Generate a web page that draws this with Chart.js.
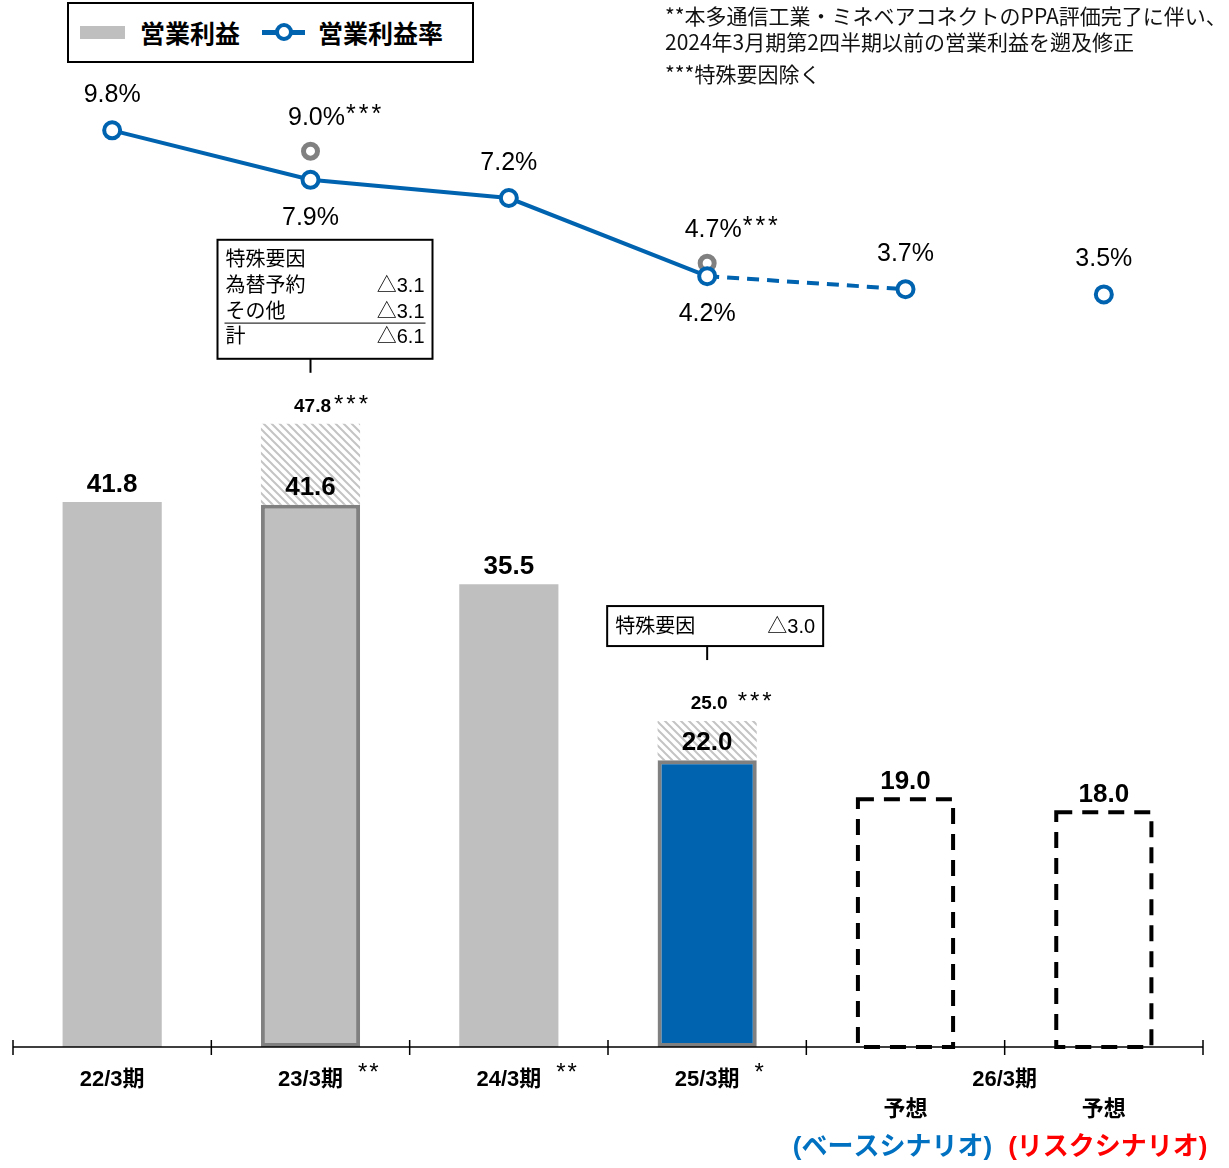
<!DOCTYPE html>
<html>
<head>
<meta charset="utf-8">
<script src="https://cdn.jsdelivr.net/npm/chart.js@4"></script>
<style>
  body { margin: 0; background: #fff; }
  #wrap { position: relative; width: 1229px; height: 1168px; overflow: hidden;
          font-family: "Liberation Sans", "Noto Sans CJK JP", sans-serif; }
  canvas { position: absolute; left: 0; top: 0; }
  .legend { position: absolute; left: 67px; top: 2px; width: 403px; height: 57px; border: 2px solid #000; background: #fff; }
  .legend .sw { position: absolute; left: 11px; top: 22px; width: 45px; height: 13px; background: #bfbfbf; }
  .legend .ln { position: absolute; left: 193px; top: 26px; width: 43px; height: 5px; background: #0063b0; }
  .legend .dot { position: absolute; left: 206px; top: 19px; width: 18px; height: 18px; box-sizing: border-box;
                 border: 4px solid #0063b0; border-radius: 50%; background: #fff; }
  .legend .tx { position: absolute; top: 13px; line-height: 30px; font-size: 25px; font-weight: bold; font-family: "Noto Sans CJK JP", sans-serif; }
  .note { position: absolute; left: 665px; font-size: 21px; line-height: 26px; white-space: nowrap;
          font-family: "Noto Sans CJK JP", sans-serif; color: #111; }
</style>
</head>
<body>
<div id="wrap">
  <canvas id="chart" width="1229" height="1168"></canvas>
  <div class="legend">
    <div class="sw"></div><div class="tx" style="left:71px">営業利益</div>
    <div class="ln"></div><div class="dot"></div><div class="tx" style="left:249px">営業利益率</div>
  </div>
  <div class="note" style="top:2px">**本多通信工業・ミネベアコネクトのPPA評価完了に伴い、</div>
  <div class="note" style="top:28px">2024年3月期第2四半期以前の営業利益を遡及修正</div>
  <div class="note" style="top:60px">***特殊要因除く</div>
</div>
<script>
const categories = ["22/3期", "23/3期", "24/3期", "25/3期", "予想", "予想"];
const categoryMarks = ["", "**", "**", "*", "", ""];
const forecastGroup = "26/3期";
const scenarios = ["", "", "", "", "(ベースシナリオ)", "(リスクシナリオ)"];
const isForecast = [false, false, false, false, true, true];

const operatingProfit = [41.8, 41.6, 35.5, 22.0, 19.0, 18.0];
const profitExSpecial = [null, 47.8, null, 25.0, null, null];
const operatingMargin = [9.8, 7.9, 7.2, 4.2, 3.7, 3.5];
const marginExSpecial = [null, 9.0, null, 4.7, null, null];
const marginLabelSide = ["up", "down", "up", "down", "up", "up"];

const specialFactors23 = [["特殊要因", ""], ["為替予約", "△3.1"], ["その他", "△3.1"], ["計", "△6.1"]];
const specialFactors25 = [["特殊要因", "△3.0"]];

const BLUE = "#0063b0";
const FONT = '"Liberation Sans", "Noto Sans CJK JP", sans-serif';

function hatchPattern() {
  const c = document.createElement("canvas");
  c.width = 8; c.height = 8;
  const g = c.getContext("2d");
  g.fillStyle = "#fff";
  g.fillRect(0, 0, 8, 8);
  g.strokeStyle = "#c4c4c4";
  g.lineWidth = 2;
  g.beginPath();
  g.moveTo(-4, 4); g.lineTo(4, 12);
  g.moveTo(0, 0); g.lineTo(8, 8);
  g.moveTo(4, -4); g.lineTo(12, 4);
  g.stroke();
  return document.getElementById("chart").getContext("2d").createPattern(c, "repeat");
}

// callouts hang above the hatched (ex-special) bars
const callouts = {
  1: { rows: specialFactors23, dx: -93, w: 215, h: 119, gap: 65, rule: 2 },
  3: { rows: specialFactors25, dx: -100, w: 216, h: 40, gap: 75, rule: -1 }
};

const annotate = {
  id: "annotate",
  afterDatasetsDraw(chart) {
    const ctx = chart.ctx;
    const bars = chart.getDatasetMeta(0).data;
    const tops = chart.getDatasetMeta(1).data;
    const pts = chart.getDatasetMeta(2).data;
    const grey = chart.getDatasetMeta(3).data;
    ctx.save();

    // dashed outlines for forecasts
    bars.forEach((b, i) => {
      if (!isForecast[i]) return;
      ctx.setLineDash([16, 10]);
      ctx.lineWidth = 4;
      ctx.strokeStyle = "#000";
      ctx.strokeRect(b.x - b.width / 2 + 2, b.y, b.width - 4, b.base - b.y);
    });
    ctx.setLineDash([]);

    // bar values
    ctx.fillStyle = "#000";
    ctx.textAlign = "center";
    ctx.textBaseline = "alphabetic";
    ctx.font = "bold 26px " + FONT;
    bars.forEach((b, i) => ctx.fillText(operatingProfit[i].toFixed(1), b.x, b.y - 10));

    // ex-special values + callouts
    profitExSpecial.forEach((v, i) => {
      if (v == null) return;
      const t = tops[i];
      ctx.font = "bold 19px " + FONT;
      ctx.textAlign = "center";
      const s = v.toFixed(1);
      const w = ctx.measureText(s).width;
      ctx.fillText(s, t.x + 2, t.y - 12);
      ctx.font = "24px " + FONT;
      ctx.textAlign = "left";
      ctx.letterSpacing = "3px";
      ctx.fillText("***", t.x + 2 + w / 2 + (i === 3 ? 10 : 3), t.y - 12);
      ctx.letterSpacing = "0px";

      const c = callouts[i];
      const bottom = t.y - c.gap;
      const top = bottom - c.h;
      const left = t.x + c.dx;
      ctx.strokeStyle = "#000";
      ctx.lineWidth = 2;
      ctx.strokeRect(left, top, c.w, c.h);
      ctx.beginPath();
      ctx.moveTo(t.x, bottom);
      ctx.lineTo(t.x, bottom + 14);
      ctx.stroke();
      ctx.font = "20px " + FONT;
      ctx.textBaseline = "middle";
      c.rows.forEach((r, k) => {
        const y = top + 21 + k * 25.7;
        ctx.textAlign = "left";
        ctx.fillText(r[0], left + 8, y);
        ctx.textAlign = "right";
        ctx.fillText(r[1], left + c.w - 8, y);
        if (k === c.rule) {
          ctx.lineWidth = 1.2;
          ctx.strokeStyle = "#333";
          ctx.beginPath();
          ctx.moveTo(left + 7, y + 11);
          ctx.lineTo(left + c.w - 7, y + 11);
          ctx.stroke();
        }
      });
      ctx.textBaseline = "alphabetic";
    });

    // margin labels
    ctx.font = "25px " + FONT;
    ctx.textAlign = "center";
    ctx.textBaseline = "middle";
    pts.forEach((p, i) => {
      const y = marginLabelSide[i] === "up" ? p.y - 35 : p.y + 38;
      ctx.fillText(operatingMargin[i].toFixed(1) + "%", p.x, y);
    });
    marginExSpecial.forEach((v, i) => {
      if (v == null) return;
      const p = grey[i];
      ctx.font = "25px " + FONT;
      ctx.textAlign = "center";
      const s = v.toFixed(1) + "%";
      const w = ctx.measureText(s).width;
      ctx.fillText(s, p.x + 6, p.y - 33);
      ctx.textAlign = "left";
      ctx.letterSpacing = "3px";
      ctx.fillText("***", p.x + 6 + w / 2 + 1, p.y - 36);
      ctx.letterSpacing = "0px";
    });
    ctx.restore();
  },
  afterDraw(chart) {
    const ctx = chart.ctx;
    const xs = chart.scales.x;
    const area = chart.chartArea;
    const yb = area.bottom;
    ctx.save();
    ctx.strokeStyle = "#000";
    ctx.lineWidth = 1.5;
    ctx.beginPath();
    ctx.moveTo(area.left, yb);
    ctx.lineTo(area.right, yb);
    for (let i = 0; i <= categories.length; i++) {
      const x = xs.getPixelForValue(i - 0.5);
      ctx.moveTo(x, yb - 7);
      ctx.lineTo(x, yb + 8);
    }
    ctx.stroke();

    ctx.fillStyle = "#000";
    ctx.textBaseline = "middle";
    const fx = [];
    categories.forEach((c, i) => {
      const x = xs.getPixelForValue(i);
      ctx.textAlign = "center";
      ctx.font = "bold 22px " + FONT;
      if (isForecast[i]) {
        fx.push(x);
        ctx.fillText(c, x, yb + 63);
        ctx.font = "bold 26px " + FONT;
        ctx.fillStyle = fx.length === 1 ? "#0070c0" : "#ff0000";
        ctx.fillText(scenarios[i], x + (fx.length === 1 ? -13 : 4), yb + 101);
        ctx.fillStyle = "#000";
      } else {
        ctx.fillText(c, x, yb + 33);
        if (categoryMarks[i]) {
          const w = ctx.measureText(c).width;
          ctx.font = "24px " + FONT;
          ctx.textAlign = "left";
          ctx.letterSpacing = "2px";
          ctx.fillText(categoryMarks[i], x + w / 2 + 15, yb + 26);
          ctx.letterSpacing = "0px";
        }
      }
    });
    ctx.font = "bold 22px " + FONT;
    ctx.textAlign = "center";
    ctx.fillText(forecastGroup, (fx[0] + fx[fx.length - 1]) / 2, yb + 33);
    ctx.restore();
  }
};

new Chart("chart", {
  data: {
    labels: categories,
    datasets: [
      {
        type: "bar",
        data: operatingProfit,
        backgroundColor: ["#bfbfbf", "#bfbfbf", "#bfbfbf", BLUE, "rgba(0,0,0,0)", "rgba(0,0,0,0)"],
        borderColor: "#808080",
        borderWidth: [0, 4, 0, 4, 0, 0],
        borderSkipped: false,
        grouped: false,
        categoryPercentage: 1,
        barPercentage: 0.5,
        order: 3,
      },
      {
        type: "bar",
        data: profitExSpecial.map((v, i) => (v == null ? null : [operatingProfit[i], v])),
        backgroundColor: hatchPattern(),
        borderWidth: 0,
        grouped: false,
        categoryPercentage: 1,
        barPercentage: 0.5,
        order: 4,
      },
      {
        type: "line",
        data: operatingMargin,
        yAxisID: "y1",
        borderColor: BLUE,
        borderWidth: 4,
        pointRadius: 8,
        pointBorderWidth: 4,
        pointBackgroundColor: "#fff",
        pointBorderColor: BLUE,
        segment: {
          borderDash: (c) => (isForecast[c.p1DataIndex] && !isForecast[c.p0DataIndex] ? [12, 8] : undefined),
          borderColor: (c) => (isForecast[c.p1DataIndex] && isForecast[c.p0DataIndex] ? "rgba(0,0,0,0)" : undefined),
        },
        order: 1,
      },
      {
        type: "line",
        data: marginExSpecial,
        yAxisID: "y1",
        showLine: false,
        pointRadius: 7,
        pointBorderWidth: 5,
        pointBackgroundColor: "#fff",
        pointBorderColor: "#808080",
        order: 2,
      },
    ],
  },
  options: {
    responsive: false,
    animation: false,
    layout: { padding: { left: 13, right: 26, top: 47, bottom: 121 } },
    plugins: { legend: { display: false }, tooltip: { enabled: false } },
    scales: {
      x: { type: "category", offset: true, display: false },
      y: { display: false, min: 0, max: 76.7 },
      y1: { display: false, min: -25.4, max: 13.0 },
    },
  },
  plugins: [annotate],
});
</script>
</body>
</html>
